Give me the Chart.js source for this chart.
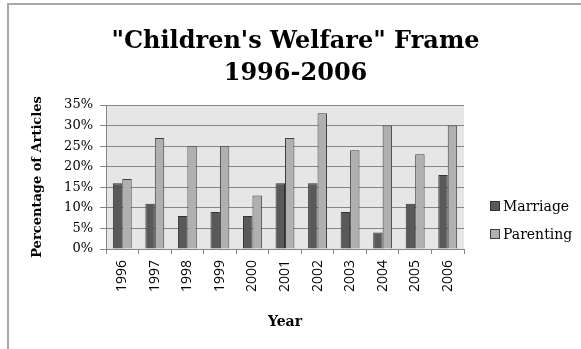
<!DOCTYPE html>
<html lang="en">

<head>
    <meta charset="UTF-8">
    <title>Children's Welfare Frame</title>
    <script src="https://cdn.jsdelivr.net/npm/chart.js"></script>
    <style>
        body {
            margin: 0;
            background: #fff;
            overflow: hidden;
        }

        .janela {
            position: relative;
            width: 581px;
            height: 349px;
            overflow: hidden;
        }

        /* bordas superior e esquerda da moldura */
        .borda-topo {
            position: absolute;
            left: 7px;
            top: 3px;
            width: 574px;
            height: 2px;
            background: #a8a8a8;
        }

        .borda-esq {
            position: absolute;
            left: 7px;
            top: 3px;
            width: 2px;
            height: 346px;
            background: #a8a8a8;
        }

        .titulo {
            position: absolute;
            left: 0;
            top: 24px;
            width: 591px;
            text-align: center;
            font-family: "DejaVu Serif", serif;
            font-weight: bold;
            font-size: 24px;
            line-height: 32px;
            color: #000;
        }

        canvas {
            position: absolute;
            left: 0;
            top: 0;
        }

        .legenda {
            position: absolute;
            left: 490px;
            top: 196px;
            font-family: "DejaVu Serif", serif;
            font-size: 14px;
            color: #000;
        }

        .legenda div {
            height: 28px;
            line-height: 20px;
            white-space: nowrap;
        }

        .legenda span {
            display: inline-block;
            width: 8px;
            height: 8px;
            margin-right: 3px;
            vertical-align: 0px;
        }
    </style>
</head>

<body>
    <div class="janela">
        <div class="borda-topo"></div>
        <div class="borda-esq"></div>
        <canvas id="grafico" width="581" height="349"></canvas>
        <div class="titulo">"Children's Welfare" Frame<br>1996-2006</div>
        <div class="legenda" id="legenda"></div>
    </div>

    <script>
        // anos e percentuais de artigos por enquadramento
        const anos = ['1996', '1997', '1998', '1999', '2000', '2001', '2002', '2003', '2004', '2005', '2006'];
        const casamento = [16, 11, 8, 9, 8, 16, 16, 9, 4, 11, 18];
        const parentalidade = [17, 27, 25, 25, 13, 27, 33, 24, 30, 23, 30];
        const marcasEixoY = [0, 5, 10, 15, 20, 25, 30, 35];

        const corGrade = '#858585';

        // pinta o fundo cinza da area de plotagem
        const fundoArea = {
            id: 'fundoArea',
            beforeDraw(chart) {
                const { ctx, chartArea } = chart;
                ctx.save();
                ctx.fillStyle = '#e6e6e6';
                ctx.fillRect(chartArea.left, chartArea.top, chartArea.right - chartArea.left, chartArea.bottom - chartArea.top);
                ctx.restore();
            }
        };

        let dados = {
            labels: anos,
            datasets: [{
                label: 'Marriage',
                data: casamento,
                backgroundColor: '#595959',
                borderColor: '#333333',
                borderWidth: 1
            }, {
                label: 'Parenting',
                data: parentalidade,
                backgroundColor: '#b0b0b0',
                borderColor: '#404040',
                borderWidth: 1
            }]
        };

        const config = {
            type: 'bar',
            data: dados,
            plugins: [fundoArea],
            options: {
                responsive: false,
                animation: false,
                layout: { padding: { left: 20, top: 105, right: 117, bottom: 0 } },
                datasets: { bar: { categoryPercentage: 0.58, barPercentage: 1 } },
                plugins: {
                    legend: { display: false },
                    title: { display: false },
                    tooltip: { enabled: false }
                },
                scales: {
                    x: {
                        afterFit(scale) { scale.height = 100; },
                        grid: { offset: true, drawOnChartArea: false, color: corGrade, tickLength: 5 },
                        border: { color: corGrade },
                        ticks: {
                            minRotation: 90, maxRotation: 90, padding: 6, color: '#000',
                            font: { family: 'Open Sans', size: 14 }
                        },
                        title: {
                            display: true, text: 'Year', color: '#000', padding: { top: 0, bottom: 18 },
                            font: { family: 'DejaVu Serif', size: 14, weight: 'bold' }
                        }
                    },
                    y: {
                        min: 0,
                        max: 35,
                        afterFit(scale) { scale.width = 86; },
                        afterBuildTicks(scale) { scale.ticks = marcasEixoY.map(v => ({ value: v })); },
                        grid: { color: corGrade, tickLength: 6 },
                        border: { color: corGrade },
                        ticks: {
                            padding: 7, color: '#000',
                            font: { family: 'DejaVu Serif', size: 13 },
                            callback: v => v + '%'
                        },
                        title: {
                            display: true, text: 'Percentage of Articles', color: '#000', padding: { top: 10, bottom: 0 },
                            font: { family: 'DejaVu Serif', size: 13, weight: 'bold' }
                        }
                    }
                }
            }
        };

        let grafico = new Chart(document.getElementById('grafico'), config);

        // legenda montada a partir dos datasets
        let legenda = document.getElementById('legenda');
        for (let i = 0; i < dados.datasets.length; i++) {
            let ds = dados.datasets[i];
            legenda.innerHTML += '<div><span style="background:' + ds.backgroundColor + ';border:1px solid ' + ds.borderColor + '"></span>' + ds.label + '</div>';
        }
    </script>
</body>

</html>
